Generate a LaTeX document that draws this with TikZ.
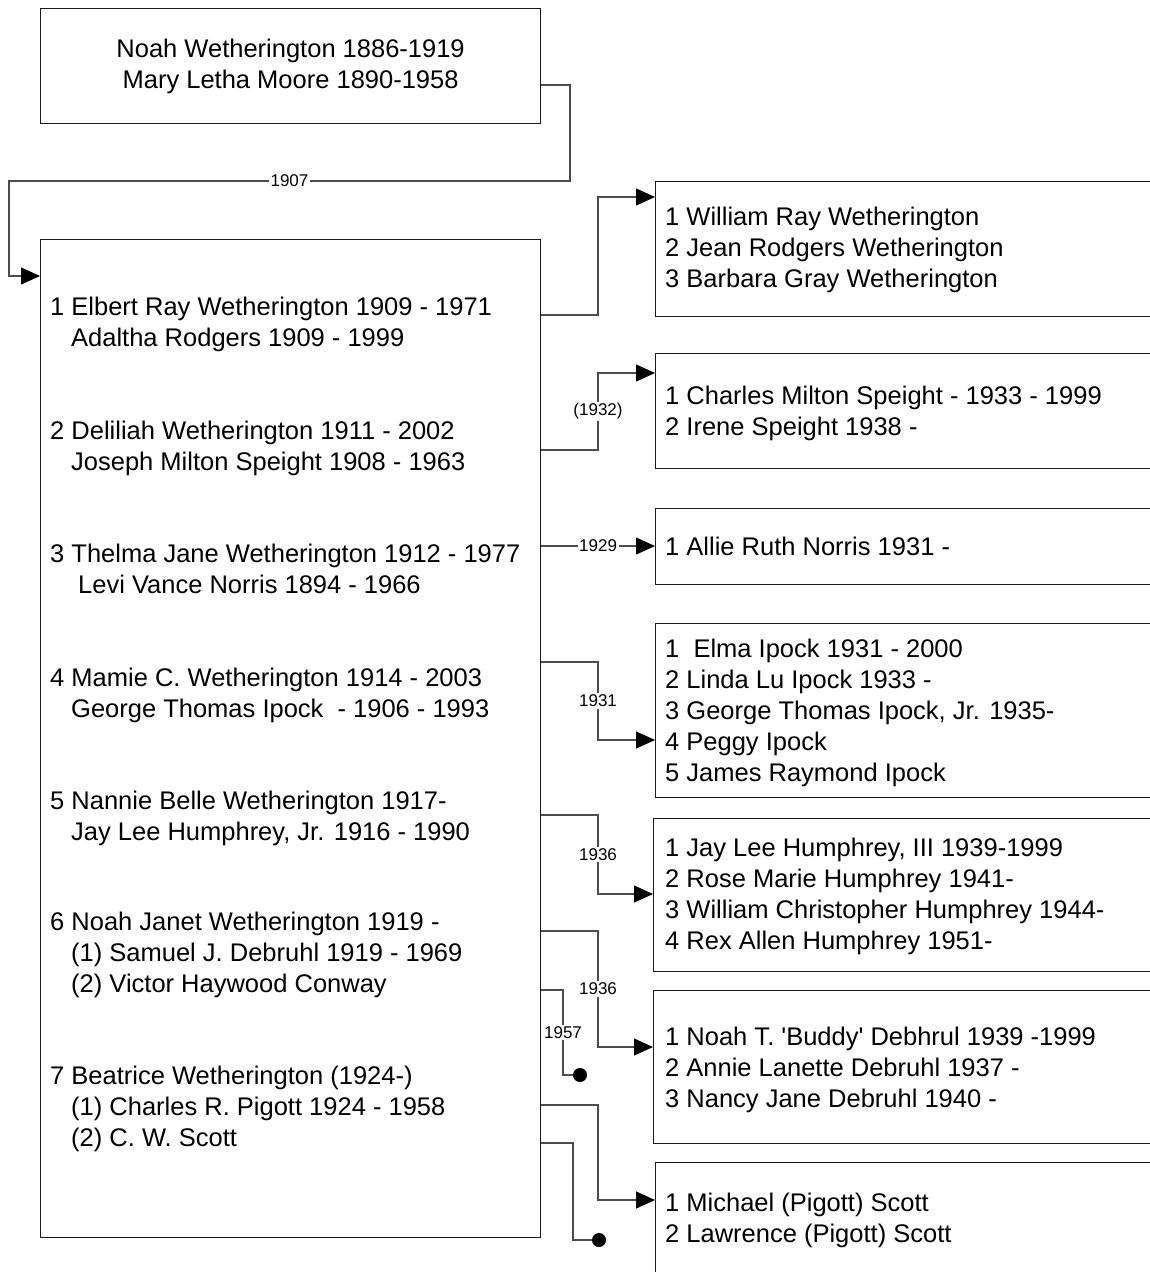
\documentclass[tikz,border=0pt]{standalone}
\usepackage{fontspec}
\setmainfont{Liberation Sans}
\usetikzlibrary{arrows.meta}
\begin{document}
\begin{tikzpicture}[x=1pt,y=-1pt,
  box/.style={draw=black!90, line width=1.2pt, inner sep=0pt, anchor=north west},
  txt/.style={anchor=base west, inner sep=0pt, font=\fontsize{25.5pt}{31pt}\selectfont},
  conn/.style={draw=black!70, line width=1.1pt},
  arr/.style={-{Triangle[length=19pt,width=17pt,black]}},
  dotend/.style={-{Circle[length=14pt,black]}},
  lbl/.style={fill=white, inner sep=1.5pt, font=\fontsize{17pt}{19pt}\selectfont}]

\useasboundingbox (0,0) rectangle (1150,1272);
\clip (0,0) rectangle (1150,1272);

% boxes
\node[box, minimum width=500pt, minimum height=115pt, align=center,
      font=\fontsize{25.5pt}{31pt}\selectfont] (top) at (40,8)
      {Noah Wetherington 1886-1919\\Mary Letha Moore 1890-1958};
\node[box, minimum width=500pt, minimum height=998pt] (main) at (40,239) {};

\node[box, minimum width=520pt, minimum height=135pt] (c1) at (655,181) {};
\node[box, minimum width=520pt, minimum height=115pt] (c2) at (655,353) {};
\node[box, minimum width=520pt, minimum height=76pt]  (c3) at (655,508) {};
\node[box, minimum width=520pt, minimum height=174pt] (c4) at (655,623) {};
\node[box, minimum width=520pt, minimum height=153pt] (c5) at (653,818) {};
\node[box, minimum width=520pt, minimum height=153pt] (c6) at (653,990) {};
\node[box, minimum width=520pt, minimum height=150pt] (c7) at (655,1162) {};

% main box text
\node[txt] (m1a) at (50,315)  {1 Elbert Ray Wetherington 1909 - 1971};
\node[txt] (m1b) at (71,346)  {Adaltha Rodgers 1909 - 1999};
\node[txt] (m2a) at (50,439)  {2 Deliliah Wetherington 1911 - 2002};
\node[txt] (m2b) at (71,470)  {Joseph Milton Speight 1908 - 1963};
\node[txt] (m3a) at (50,562)  {3 Thelma Jane Wetherington 1912 - 1977};
\node[txt] (m3b) at (78,593)  {Levi Vance Norris 1894 - 1966};
\node[txt] (m4a) at (50,686)  {4 Mamie C. Wetherington 1914 - 2003};
\node[txt] (m4b) at (71,717)  {George Thomas Ipock\ \ - 1906 - 1993};
\node[txt] (m5a) at (50,809)  {5 Nannie Belle Wetherington 1917-};
\node[txt] (m5b) at (71,840)  {Jay Lee Humphrey, Jr. 1916 - 1990};
\node[txt] (m6a) at (50,930)  {6 Noah Janet Wetherington 1919 -};
\node[txt] (m6b) at (71,961)  {(1) Samuel J. Debruhl 1919 - 1969};
\node[txt] (m6c) at (71,992)  {(2) Victor Haywood Conway};
\node[txt] (m7a) at (50,1084) {7 Beatrice Wetherington (1924-)};
\node[txt] (m7b) at (71,1115) {(1) Charles R. Pigott 1924 - 1958};
\node[txt] (m7c) at (71,1146) {(2) C. W. Scott};

% children text
\node[txt] (k1a) at (665,225) {1 William Ray Wetherington};
\node[txt] (k1b) at (665,256) {2 Jean Rodgers Wetherington};
\node[txt] (k1c) at (665,287) {3 Barbara Gray Wetherington};
\node[txt] (k2a) at (665,404) {1 Charles Milton Speight - 1933 - 1999};
\node[txt] (k2b) at (665,435) {2 Irene Speight 1938 -};
\node[txt] (k3a) at (665,555) {1 Allie Ruth Norris 1931 -};
\node[txt] (k4a) at (665,657) {1\ \ Elma Ipock 1931 - 2000};
\node[txt] (k4b) at (665,688) {2 Linda Lu Ipock 1933 -};
\node[txt] (k4c) at (665,719) {3 George Thomas Ipock, Jr. 1935-};
\node[txt] (k4d) at (665,750) {4 Peggy Ipock};
\node[txt] (k4e) at (665,781) {5 James Raymond Ipock};
\node[txt] (k5a) at (665,856) {1 Jay Lee Humphrey, III 1939-1999};
\node[txt] (k5b) at (665,887) {2 Rose Marie Humphrey 1941-};
\node[txt] (k5c) at (665,918) {3 William Christopher Humphrey 1944-};
\node[txt] (k5d) at (665,949) {4 Rex Allen Humphrey 1951-};
\node[txt] (k6a) at (665,1045) {1 Noah T. \textquotesingle Buddy\textquotesingle\ Debhrul 1939 -1999};
\node[txt] (k6b) at (665,1076) {2 Annie Lanette Debruhl 1937 -};
\node[txt] (k6c) at (665,1107) {3 Nancy Jane Debruhl 1940 -};
\node[txt] (k7a) at (665,1211) {1 Michael (Pigott) Scott};
\node[txt] (k7b) at (665,1242) {2 Lawrence (Pigott) Scott};

% connectors
\draw[conn,arr] (top.east |- 0,85) -| (570,181) -- node[lbl]{1907} (9,181) |- (main.west |- 0,276);
\draw[conn,arr] (main.east |- 0,315) -| (598,197) -- (c1.west |- 0,197);
\draw[conn,arr] (main.east |- 0,450) -- (598,450) -- node[lbl]{(1932)} (598,373) -- (c2.west |- 0,373);
\draw[conn,arr] (main.east |- 0,546) -- node[lbl]{1929} (c3.west |- 0,546);
\draw[conn,arr] (main.east |- 0,662) -- (598,662) -- node[lbl]{1931} (598,740) -- (c4.west |- 0,740);
\draw[conn,arr] (main.east |- 0,815) -- (598,815) -- node[lbl]{1936} (598,894) -- (c5.west |- 0,894);
\draw[conn,arr] (main.east |- 0,931) -- (598,931) -- node[lbl]{1936} (598,1047) -- (c6.west |- 0,1047);
\draw[conn,dotend] (main.east |- 0,990) -- (563,990) -- node[lbl]{1957} (563,1075) -- (587,1075);
\draw[conn,arr] (main.east |- 0,1105) -- (598,1105) -- (598,1200) -- (c7.west |- 0,1200);
\draw[conn,dotend] (main.east |- 0,1143) -- (573,1143) -- (573,1240) -- (606,1240);
\end{tikzpicture}
\end{document}
